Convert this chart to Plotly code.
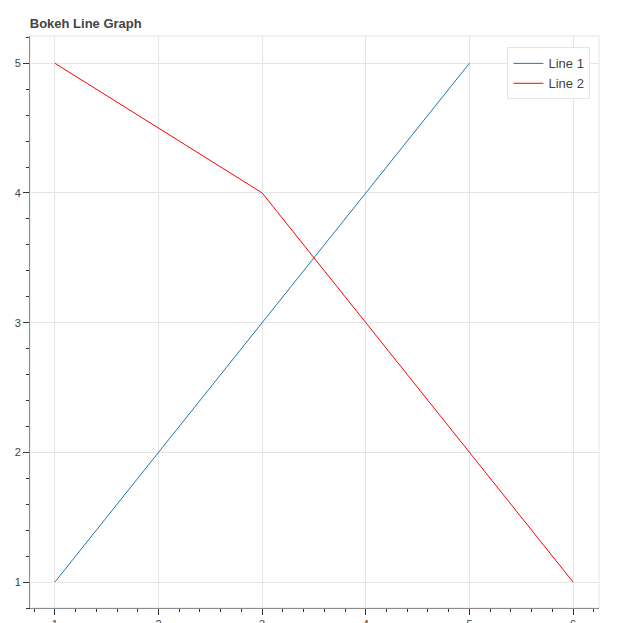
import plotly.graph_objects as go

x1 = [1, 2, 3, 4, 5]
y1 = [1, 2, 3, 4, 5]
x2 = [1, 2, 3, 4, 5, 6]
y2 = [5, 4.5, 4, 3, 2, 1]

fig = go.Figure()
fig.add_trace(go.Scatter(x=x1, y=y1, mode="lines", name="Line 1", line=dict(color="#1f77b4", width=1)))
fig.add_trace(go.Scatter(x=x2, y=y2, mode="lines", name="Line 2", line=dict(color="red", width=1)))

axis_style = dict(showgrid=True, gridcolor="#e5e5e5", showline=True, linecolor="#333", linewidth=1,
                  ticks="outside", ticklen=6, tickcolor="#333", zeroline=False, automargin=False,
                  tickfont=dict(family="Arial", size=11, color="#444"),
                  minor=dict(ticks="outside", ticklen=3, tickcolor="#333", nticks=5, showgrid=False))

fig.update_xaxes(range=[0.76, 6.25], dtick=1, **axis_style)
fig.update_yaxes(range=[0.8, 5.21], dtick=1, **axis_style)

fig.update_layout(
    width=622, height=623,
    plot_bgcolor="white", paper_bgcolor="white",
    margin=dict(l=22, r=31, t=28, b=23),
    title=dict(text="<b>Bokeh Line Graph</b>", x=0.035, xanchor="left", y=0.975, yanchor="middle",
               font=dict(family="Arial", size=13, color="#444")),
    legend=dict(x=0.985, y=0.98, xanchor="right", yanchor="top", bgcolor="white",
                bordercolor="#e5e5e5", borderwidth=1, font=dict(family="Arial", size=13, color="#444")),
    shapes=[dict(type="rect", xref="paper", yref="paper", x0=0, y0=0, x1=1, y1=1,
                 line=dict(color="#e5e5e5", width=1))],
)

fig.write_html("out.html")
